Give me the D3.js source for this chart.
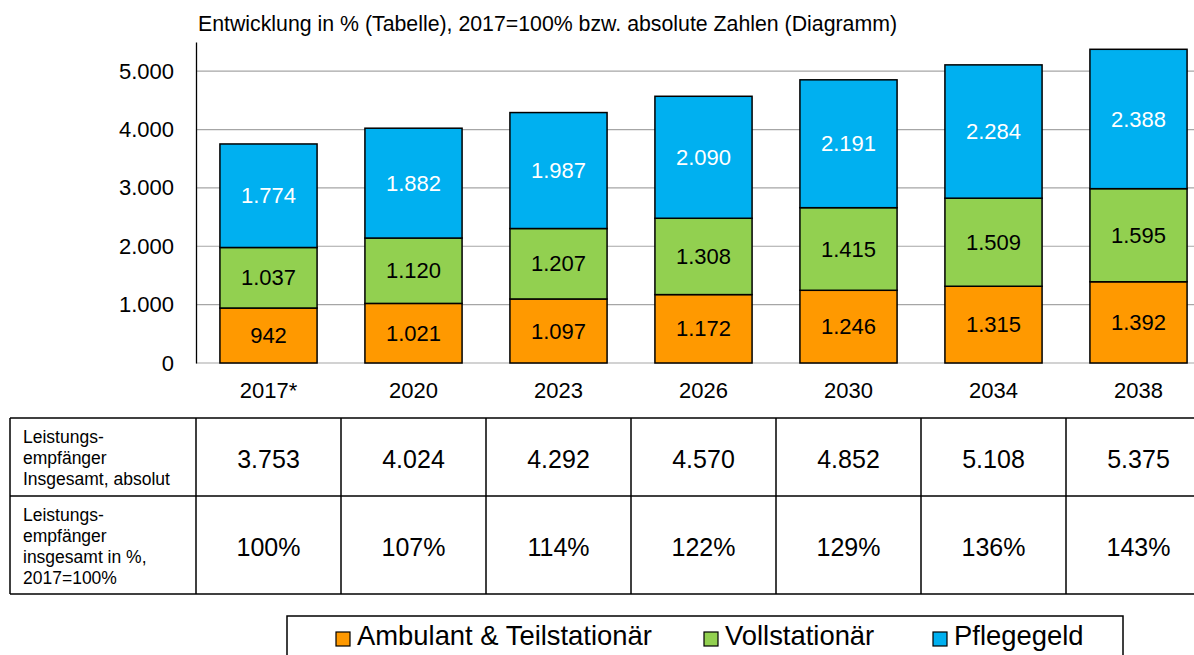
<!DOCTYPE html>
<html>
<head>
<meta charset="utf-8">
<script src="https://cdn.jsdelivr.net/npm/d3@7"></script>
<style>
  body { margin: 0; background: #fff; }
  text { font-family: "Liberation Sans", Arial, sans-serif; }
</style>
</head>
<body>
<div id="chart"></div>
<script>
const years = ["2017*", "2020", "2023", "2026", "2030", "2034", "2038"];
const ambulant = [942, 1021, 1097, 1172, 1246, 1315, 1392];
const vollstationaer = [1037, 1120, 1207, 1308, 1415, 1509, 1595];
const pflegegeld = [1774, 1882, 1987, 2090, 2191, 2284, 2388];
const totals = [3753, 4024, 4292, 4570, 4852, 5108, 5375];
const percents = [100, 107, 114, 122, 129, 136, 143];
const yTicks = [0, 1000, 2000, 3000, 4000, 5000];
const seriesNames = ["Ambulant & Teilstationär", "Vollstationär", "Pflegegeld"];
const seriesColors = ["#FF9900", "#92D050", "#00B0F0"];
const rowLabels = [
  ["Leistungs-", "empfänger", "Insgesamt, absolut"],
  ["Leistungs-", "empfänger", "insgesamt in %,", "2017=100%"]
];

const width = 1194, height = 655;
const plot = { left: 196, right: 1211, top: 42, bottom: 363 };

const de = d3.formatLocale({ decimal: ",", thousands: ".", grouping: [3], currency: ["", " €"] });
const fmt = de.format(",d");

const svg = d3.select("#chart").append("svg")
  .attr("width", width)
  .attr("height", height);

const xScale = d3.scaleBand()
  .domain(years)
  .range([plot.left, plot.right])
  .paddingInner(0.33)
  .paddingOuter(0.165);

const yScale = d3.scaleLinear()
  .domain([0, 5500])
  .range([plot.bottom, plot.top]);

// title
svg.append("text")
  .attr("x", 198)
  .attr("y", 31)
  .attr("font-size", 21.3)
  .text("Entwicklung in % (Tabelle), 2017=100% bzw. absolute Zahlen (Diagramm)");

// grid
svg.append("g")
  .selectAll("line")
  .data(yTicks)
  .join("line")
  .attr("x1", plot.left)
  .attr("x2", width)
  .attr("y1", d => yScale(d))
  .attr("y2", d => yScale(d))
  .attr("stroke", "#a6a6a6")
  .attr("stroke-width", 1.2);

// y axis
const yAxis = d3.axisLeft(yScale)
  .tickValues(yTicks)
  .tickFormat(d => fmt(d))
  .tickSize(0)
  .tickPadding(22);

const yg = svg.append("g")
  .attr("transform", `translate(${plot.left},0)`)
  .call(yAxis);
yg.select(".domain").attr("stroke", "#000").attr("stroke-width", 1.3);
yg.selectAll("text")
  .attr("font-size", 22)
  .attr("fill", "#000")
  .attr("font-family", "Liberation Sans, Arial, sans-serif");

// stacked data
const rows = years.map((y, i) => ({ year: y, a: ambulant[i], v: vollstationaer[i], p: pflegegeld[i] }));
const stack = d3.stack().keys(["a", "v", "p"]);
const layers = stack(rows);

const layerG = svg.append("g")
  .selectAll("g")
  .data(layers)
  .join("g")
  .attr("fill", (d, i) => seriesColors[i]);

layerG.selectAll("rect")
  .data(d => d)
  .join("rect")
  .attr("x", d => xScale(d.data.year))
  .attr("width", xScale.bandwidth())
  .attr("y", d => yScale(d[1]))
  .attr("height", d => yScale(d[0]) - yScale(d[1]))
  .attr("stroke", "#000")
  .attr("stroke-width", 1.5);

layers.forEach((layer, li) => {
  svg.append("g")
    .selectAll("text")
    .data(layer)
    .join("text")
    .attr("x", d => xScale(d.data.year) + xScale.bandwidth() / 2)
    .attr("y", d => (yScale(d[0]) + yScale(d[1])) / 2)
    .attr("dy", "0.35em")
    .attr("text-anchor", "middle")
    .attr("font-size", 22)
    .attr("fill", li === 2 ? "#fff" : "#000")
    .text(d => fmt(d[1] - d[0]));
});

// x labels
svg.append("g")
  .selectAll("text")
  .data(years)
  .join("text")
  .attr("x", d => xScale(d) + xScale.bandwidth() / 2)
  .attr("y", 398)
  .attr("text-anchor", "middle")
  .attr("font-size", 22)
  .text(d => d);

// table
const table = { left: 10, top: 418, mid: 496, bottom: 594 };
const colScale = d3.scaleBand()
  .domain(years)
  .range([plot.left, plot.right]);

const tg = svg.append("g").attr("stroke", "#000").attr("stroke-width", 1.5);
[table.top, table.mid, table.bottom].forEach(y => {
  tg.append("line").attr("x1", table.left).attr("x2", width).attr("y1", y).attr("y2", y);
});
tg.append("line").attr("x1", table.left).attr("x2", table.left).attr("y1", table.top).attr("y2", table.bottom);
tg.selectAll("line.col")
  .data(years)
  .join("line")
  .attr("class", "col")
  .attr("x1", d => colScale(d))
  .attr("x2", d => colScale(d))
  .attr("y1", table.top)
  .attr("y2", table.bottom);

rowLabels.forEach((lines, ri) => {
  const top = ri === 0 ? table.top : table.mid;
  const bot = ri === 0 ? table.mid : table.bottom;
  const lh = 21;
  const y0 = (top + bot) / 2 - (lines.length - 1) * lh / 2 + 1;
  svg.append("text")
    .attr("font-size", 17.5)
    .selectAll("tspan")
    .data(lines)
    .join("tspan")
    .attr("x", 23)
    .attr("y", (d, i) => y0 + i * lh)
    .attr("dy", "0.35em")
    .text(d => d);
});

svg.append("g")
  .selectAll("text")
  .data(years)
  .join("text")
  .attr("x", d => colScale(d) + colScale.bandwidth() / 2)
  .attr("y", (table.top + table.mid) / 2 + 2)
  .attr("dy", "0.35em")
  .attr("text-anchor", "middle")
  .attr("font-size", 25)
  .text((d, i) => fmt(totals[i]));

svg.append("g")
  .selectAll("text")
  .data(years)
  .join("text")
  .attr("x", d => colScale(d) + colScale.bandwidth() / 2)
  .attr("y", (table.mid + table.bottom) / 2 + 2)
  .attr("dy", "0.35em")
  .attr("text-anchor", "middle")
  .attr("font-size", 25)
  .text((d, i) => percents[i] + "%");

// legend
svg.append("rect")
  .attr("x", 287)
  .attr("y", 616)
  .attr("width", 836)
  .attr("height", 60)
  .attr("fill", "none")
  .attr("stroke", "#000")
  .attr("stroke-width", 1.5);

const legendX = [336, 704, 933];
const lg = svg.append("g")
  .selectAll("g")
  .data(seriesNames)
  .join("g")
  .attr("transform", (d, i) => `translate(${legendX[i]},632)`);
lg.append("rect")
  .attr("width", 14)
  .attr("height", 14)
  .attr("fill", (d, i) => seriesColors[i])
  .attr("stroke", "#000")
  .attr("stroke-width", 1.2);
lg.append("text")
  .attr("x", 21)
  .attr("y", 13)
  .attr("font-size", 27.4)
  .text(d => d);
</script>
</body>
</html>
